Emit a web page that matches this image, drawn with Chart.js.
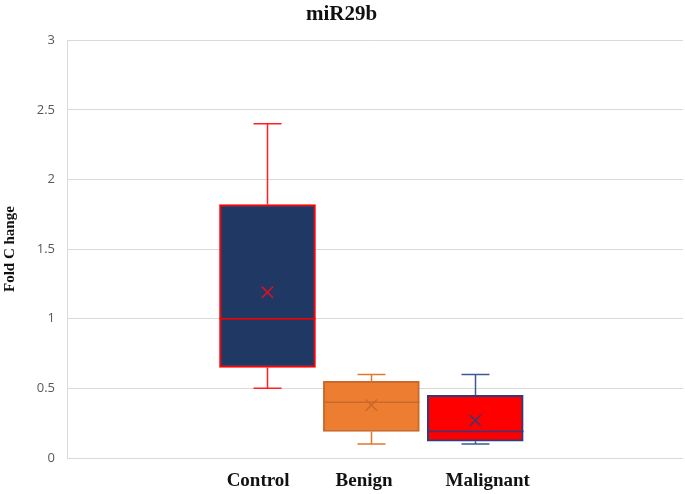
<!DOCTYPE html>
<html>
<head>
<meta charset="utf-8">
<script src="https://cdn.jsdelivr.net/npm/chart.js@4/dist/chart.umd.min.js"></script>
<style>
  html, body { margin: 0; padding: 0; background: #fff; overflow: hidden; }
  #wrap { width: 685px; height: 494px; }
</style>
</head>
<body>
<div id="wrap"><canvas id="chart"></canvas></div>
<script>
// groups and box plot values
var groups = ['Control', 'Benign', 'Malignant'];
var minVals = [0.50, 0.10, 0.10];
var q1Vals = [0.65, 0.19, 0.12];
var medianVals = [1.00, 0.40, 0.19];
var q3Vals = [1.82, 0.55, 0.45];
var maxVals = [2.40, 0.60, 0.60];
var meanVals = [1.19, 0.38, 0.27];
var yTicks = [0, 0.5, 1, 1.5, 2, 2.5, 3];

// colours per group
var fillColors = ['#203864', '#ED7D31', '#FF0000'];
var edgeColors = ['#FF0000', '#C9692B', '#2E3B7C'];
var whiskerColors = ['#FF2020', '#E0772F', '#3C5A96'];
var meanColors = ['#E01020', '#C9692B', '#2E3B7C'];
// the category labels sit a little off the box centres
var labelShift = [-0.09, -0.07, 0.12];

var positions = groups.map(function(g, i) { return i + 1; });

var boxData = positions.map(function(x, i) {
    return { x: x, y: [q1Vals[i], q3Vals[i]] };
});
var meanData = positions.map(function(x, i) {
    return { x: x, y: meanVals[i] };
});

// whiskers and median lines on top of the boxes
var boxExtras = {
    id: 'boxExtras',
    afterDatasetDraw: function(chart, args) {
        if (args.index !== 1) return;
        var ctx = chart.ctx;
        var xs = chart.scales.x, ys = chart.scales.y;
        var meta = chart.getDatasetMeta(1);
        ctx.save();
        positions.forEach(function(p, i) {
            var cx = Math.round(xs.getPixelForValue(p)) + 0.5;
            var half = meta.data[i].width / 2;
            var cap = 14;
            var yMin = ys.getPixelForValue(minVals[i]);
            var yMax = ys.getPixelForValue(maxVals[i]);
            var yQ1 = ys.getPixelForValue(q1Vals[i]);
            var yQ3 = ys.getPixelForValue(q3Vals[i]);
            var yMed = ys.getPixelForValue(medianVals[i]);

            ctx.strokeStyle = whiskerColors[i];
            ctx.lineWidth = 1.5;
            ctx.beginPath();
            ctx.moveTo(cx, yQ3); ctx.lineTo(cx, yMax);
            ctx.moveTo(cx - cap, yMax); ctx.lineTo(cx + cap, yMax);
            ctx.moveTo(cx, yQ1); ctx.lineTo(cx, yMin);
            ctx.moveTo(cx - cap, yMin); ctx.lineTo(cx + cap, yMin);
            ctx.stroke();

            ctx.strokeStyle = edgeColors[i];
            ctx.lineWidth = 1.5;
            ctx.beginPath();
            ctx.moveTo(cx - half, yMed); ctx.lineTo(cx + half, yMed);
            ctx.stroke();
        });
        ctx.restore();
    }
};

new Chart(document.getElementById('chart'), {
    type: 'bar',
    data: {
        datasets: [{
            type: 'scatter',
            label: 'Mean',
            data: meanData,
            pointStyle: 'crossRot',
            radius: 8,
            borderWidth: 1.5,
            borderColor: meanColors,
            backgroundColor: meanColors
        }, {
            label: 'Box',
            data: boxData,
            backgroundColor: fillColors,
            borderColor: edgeColors,
            borderWidth: 2,
            borderSkipped: false,
            barThickness: 96
        }]
    },
    options: {
        responsive: true,
        maintainAspectRatio: false,
        animation: false,
        layout: { autoPadding: false, padding: { top: 2, right: 2, left: 0, bottom: 0 } },
        plugins: {
            legend: { display: false },
            tooltip: { enabled: false },
            title: {
                display: true,
                text: 'miR29b',
                color: '#111',
                font: { family: 'Liberation Serif', size: 21, weight: 'bold' },
                padding: { top: 0, bottom: 13 }
            }
        },
        scales: {
            x: {
                type: 'linear',
                min: -0.93,
                max: 5,
                offset: false,
                afterBuildTicks: function(axis) {
                    axis.ticks = positions.map(function(v, i) { return { value: v + labelShift[i] }; });
                },
                afterFit: function(axis) {
                    axis.height = 36;
                    axis.paddingLeft = 0;
                    axis.paddingRight = 0;
                },
                ticks: {
                    autoSkip: false,
                    maxRotation: 0,
                    padding: 12,
                    color: '#111',
                    font: { family: 'Liberation Serif', size: 19, weight: 'bold' },
                    callback: function(v) { return groups[Math.round(v) - 1]; }
                },
                grid: { display: false, drawTicks: false },
                border: { display: false }
            },
            y: {
                min: 0,
                max: 3,
                afterBuildTicks: function(axis) {
                    axis.ticks = yTicks.map(function(v) { return { value: v }; });
                },
                afterFit: function(axis) {
                    axis.width = 67;
                },
                ticks: {
                    padding: 12,
                    color: '#595959',
                    font: { family: 'Open Sans', size: 13 },
                    callback: function(v) { return String(v); }
                },
                grid: { color: '#D9D9D9', drawTicks: false },
                border: { display: true, color: '#D9D9D9' },
                title: {
                    display: true,
                    text: 'Fold C hange',
                    color: '#111',
                    font: { family: 'Liberation Serif', size: 15, weight: 'bold' },
                    padding: { top: 1, bottom: 4 }
                }
            }
        }
    },
    plugins: [boxExtras]
});
</script>
</body>
</html>
